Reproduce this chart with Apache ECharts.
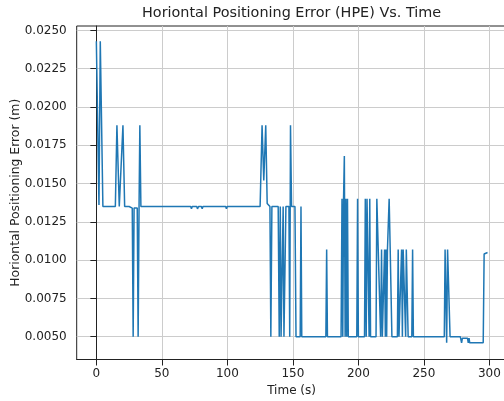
<!DOCTYPE html>
<html>
<head>
<meta charset="utf-8">
<script src="https://cdn.jsdelivr.net/npm/echarts@6/dist/echarts.min.js"></script>
<style>
  html, body { margin: 0; padding: 0; background: #fff; }
  #chart { width: 504px; height: 401px; }
</style>
</head>
<body>
<div id="chart"></div>
<script>
  // time (s) and horizontal positioning error (m)
  const hpeTime = [
    0, 1, 2, 3, 4, 5, 14.5, 15.7, 17.5, 18.8, 20.3, 21.6, 25, 26, 27.4, 28.1, 28.8, 31.2, 31.9, 32.6,
    33.2, 34, 72, 72.6, 73.2, 76.6, 77.2, 78, 80.2, 80.8, 81.4, 98.7, 99.3, 99.9, 125, 126.5,
    127.8, 129.3, 130.4, 131.1, 132.5, 133.2, 134, 138.8, 139.6, 140.4, 141, 142, 142.6, 143.2,
    144.2, 144.7, 147, 147.6, 148.2, 149, 151.6, 152.4, 155.6, 156.2, 156.8, 175.2, 175.8, 176.4,
    186.8, 187.5, 188.1, 188.7, 189.3, 189.9, 190.5, 191.1, 191.7, 192.3, 198.8, 199.4, 200,
    204.7, 205.3, 206, 206.6, 207.6, 208.2, 208.7, 209.3, 213.5, 214.1, 215.1, 217, 217.7, 218.3,
    219.4, 220, 220.6, 221.1, 221.6, 222.2, 223.5, 224.3, 225, 225.6, 229.8, 230.4, 231, 232.4,
    233, 233.6, 234.2, 235.6, 236.1, 236.6, 237.4, 238, 240.8, 241.4, 242, 265.6, 266.2, 266.8,
    267.4, 268.1, 269.4, 270, 277.8, 278.2, 278.8, 279.4, 283.3, 283.9, 284.5, 285, 295.3, 296,
    296.6, 298.6
  ];
  const hpeError = [
    0.0243, 0.0243, 0.0136, 0.0243, 0.0243, 0.0135, 0.0135, 0.0188, 0.0135, 0.0135, 0.0188, 0.0135,
    0.0135, 0.0134, 0.0134, 0.0050, 0.0134, 0.0134, 0.0050, 0.0135, 0.0188, 0.0135, 0.0135, 0.01335,
    0.0135, 0.0135, 0.01335, 0.0135, 0.0135, 0.01335, 0.0135, 0.0135, 0.01335, 0.0135, 0.0135, 0.0188,
    0.0152, 0.0188, 0.0137, 0.0138, 0.0135, 0.0050, 0.0135, 0.0135, 0.0050, 0.0135, 0.0050, 0.0050,
    0.0135, 0.0050, 0.0050, 0.0135, 0.0135, 0.0050, 0.0188, 0.0135, 0.0135, 0.0050, 0.0050, 0.0135,
    0.0050, 0.0050, 0.0107, 0.0050, 0.0050, 0.0140, 0.0050, 0.0140, 0.0168, 0.0050, 0.0140, 0.0050,
    0.0140, 0.0050, 0.0050, 0.0140, 0.0050, 0.0050, 0.0140, 0.0050, 0.0140, 0.0140, 0.0050, 0.0140,
    0.0050, 0.0050, 0.0140, 0.0140, 0.0050, 0.0107, 0.0050, 0.0050, 0.0107, 0.0050, 0.0107, 0.0050,
    0.0107, 0.0140, 0.0107, 0.0107, 0.0050, 0.0050, 0.0107, 0.0050, 0.0050, 0.0107, 0.0050, 0.0107,
    0.0107, 0.0050, 0.0107, 0.0107, 0.0050, 0.0050, 0.0107, 0.0050, 0.0050, 0.0107, 0.0107, 0.0046,
    0.0107, 0.0107, 0.0050, 0.0050, 0.0049, 0.0046, 0.0049, 0.0049, 0.0046, 0.0049, 0.0046, 0.0046,
    0.0104, 0.0105, 0.0105
  ];
  const xTicks = [0, 50, 100, 150, 200, 250, 300];
  const yTicks = [0.005, 0.0075, 0.01, 0.0125, 0.015, 0.0175, 0.02, 0.0225, 0.025];

  const font = 'DejaVu Sans';
  const ink = '#222';

  const chart = echarts.init(document.getElementById('chart'));
  chart.setOption({
    animation: false,
    title: {
      text: 'Horiontal Positioning Error (HPE) Vs. Time',
      left: 137,
      top: 1,
      textStyle: { fontFamily: font, fontSize: 14.4, fontWeight: 'normal', color: ink }
    },
    grid: {
      left: 76.7, top: 26, right: -2.4, bottom: 41.5,
      outerBoundsMode: 'none',
      show: true, borderColor: ink, borderWidth: 1, backgroundColor: 'transparent'
    },
    xAxis: {
      type: 'value',
      min: -15, max: 313,
      name: 'Time (s)',
      nameLocation: 'middle',
      nameGap: 25,
      nameMoveOverlap: false,
      nameTextStyle: { fontFamily: font, fontSize: 12, color: ink },
      axisLine: { lineStyle: { color: ink } },
      axisTick: { length: 6, customValues: xTicks, lineStyle: { color: ink } },
      axisLabel: { customValues: xTicks, margin: 8, fontFamily: font, fontSize: 12, color: ink },
      splitLine: { show: true, lineStyle: { color: '#cccccc', width: 1 } }
    },
    yAxis: {
      type: 'value',
      min: 0.00351, max: 0.02529,
      name: 'Horiontal Positioning Error (m)',
      nameLocation: 'middle',
      nameGap: 55,
      nameMoveOverlap: false,
      nameTextStyle: { fontFamily: font, fontSize: 12.4, color: ink },
      axisLine: { show: true, lineStyle: { color: ink } },
      axisTick: { show: true, length: 6, customValues: yTicks, lineStyle: { color: ink } },
      axisLabel: {
        customValues: yTicks, margin: 10, fontFamily: font, fontSize: 12, color: ink,
        formatter: v => v.toFixed(4)
      },
      splitLine: { show: true, lineStyle: { color: '#cccccc', width: 1 } }
    },
    series: [{
      type: 'line',
      data: hpeTime.map((t, i) => [t, hpeError[i]]),
      showSymbol: false,
      lineStyle: { color: '#1f77b4', width: 1.5 },
      itemStyle: { color: '#1f77b4' }
    }]
  });
</script>
</body>
</html>
